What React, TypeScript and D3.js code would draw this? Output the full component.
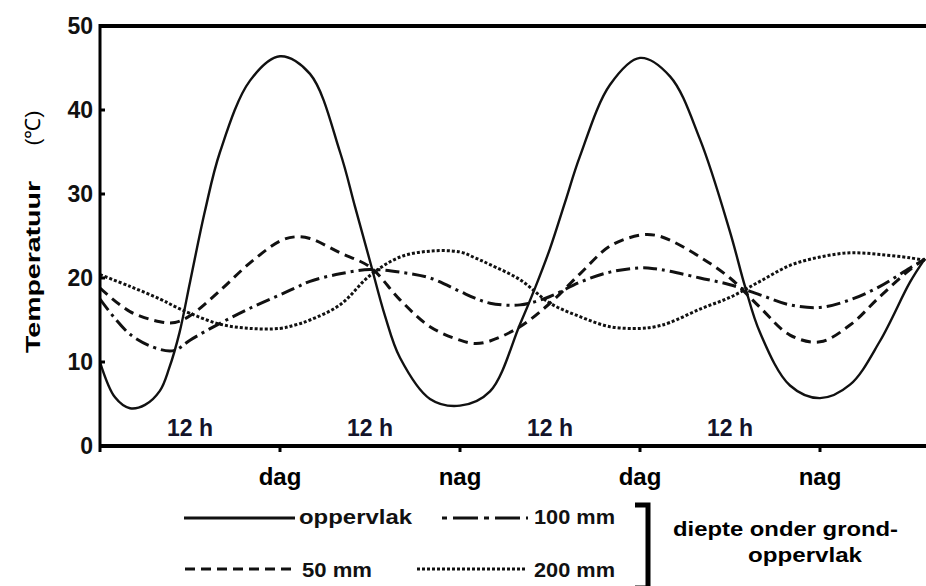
import React from "react";
import * as d3 from "d3";

const W = 926;
const H = 586;

// Y axis ticks (°C)
const yTicks = [0, 10, 20, 30, 40, 50];
// X axis: hours, ticks every 12 h
const xTickHours = [12, 24, 36, 48];
const xTickLabels = ["dag", "nag", "dag", "nag"];
const spanHours = [6, 18, 30, 42];
const spanLabels = ["12 h", "12 h", "12 h", "12 h"];

// surface (oppervlak)
const surfaceHours = [0, 1, 2, 3, 4, 4.6, 5.3, 6, 7, 8, 10, 12, 14, 16, 17, 18, 19, 20, 22, 24, 26, 28, 29, 30, 31, 32, 34, 36, 38, 40, 42, 43, 44, 46, 48, 50, 52, 54, 55];
const surfaceTemps = [10, 5.8, 4.5, 4.9, 6.6, 9.2, 13.5, 19.5, 28, 35, 43.5, 46.4, 44.3, 35, 28.5, 22, 15.5, 10.5, 5.6, 4.8, 6.5, 14.5, 18.8, 23.5, 29, 34.5, 43, 46.2, 44, 36.5, 25.5, 19, 13.5, 7.2, 5.7, 7.3, 12.5, 19.5, 22.3];

// depth series share one time grid
const depthHours = [0, 2, 4, 5, 6, 8, 10, 12, 13, 14, 16, 18, 20, 22, 24, 25, 26, 28, 30, 32, 34, 36, 37, 38, 40, 42, 44, 46, 48, 50, 52, 54, 55];
const temps50mm = [18.8, 16, 14.8, 14.7, 15.5, 18.5, 21.8, 24.4, 24.9, 24.7, 23, 21.3, 17.4, 14.2, 12.6, 12.2, 12.5, 14.2, 17, 20.5, 23.8, 25.1, 25.1, 24.5, 22.5, 20, 16.5, 13.2, 12.4, 14.4, 17.8, 21, 22.3];
const temps100mm = [17.5, 13.3, 11.5, 11.4, 12.6, 14.6, 16.4, 18, 18.8, 19.6, 20.5, 21, 20.7, 20, 18.4, 17.6, 17, 16.8, 17.8, 19.5, 20.7, 21.2, 21.1, 20.8, 20, 19.2, 18, 16.8, 16.5, 17.4, 19, 21.2, 22.2];
const temps200mm = [20.4, 19, 17.5, 16.6, 15.8, 14.5, 14, 14, 14.4, 15, 16.8, 20.3, 22.5, 23.2, 23.1, 22.4, 21.6, 19.8, 17, 15.4, 14.2, 14, 14.2, 14.7, 16.3, 17.7, 19.6, 21.5, 22.5, 23, 22.8, 22.4, 22.1];

const FONT = "'Liberation Sans', Arial, Helvetica, sans-serif";

export default function App() {
  const x = d3.scaleLinear().domain([0, 55]).range([100, 925]);
  const y = d3.scaleLinear().domain([0, 50]).range([446, 26]);

  const line = d3
    .line<[number, number]>()
    .x((d) => x(d[0]))
    .y((d) => y(d[1]))
    .curve(d3.curveCatmullRom.alpha(0.5));

  const zip = (hs: number[], vs: number[]) => hs.map((h, i) => [h, vs[i]] as [number, number]);

  const series = [
    { d: zip(surfaceHours, surfaceTemps), dash: "none", w: 2.4 },
    { d: zip(depthHours, temps50mm), dash: "10 6", w: 3 },
    { d: zip(depthHours, temps100mm), dash: "14 5 3 5", w: 3 },
    { d: zip(depthHours, temps200mm), dash: "3 2", w: 3 },
  ];

  const xMin = x(0);
  const xMax = W;

  return (
    <div style={{ position: "absolute", left: 0, top: 0 }}>
      <svg width={W} height={H} style={{ display: "block", background: "#fff" }} fontFamily={FONT}>
        <defs>
          <clipPath id="plot">
            <rect x={xMin} y={y(50)} width={xMax - xMin} height={y(0) - y(50)} />
          </clipPath>
        </defs>

        {/* curves */}
        <g clipPath="url(#plot)" fill="none" stroke="#111">
          {series.map((s, i) => (
            <path key={i} d={line(s.d) || ""} strokeWidth={s.w} strokeDasharray={s.dash} />
          ))}
        </g>

        {/* frame */}
        <line x1={xMin} x2={xMax} y1={y(50)} y2={y(50)} stroke="#000" strokeWidth={4} />
        <line x1={xMin} x2={xMax} y1={y(0)} y2={y(0)} stroke="#000" strokeWidth={4} />
        <line x1={xMin} x2={xMin} y1={y(50) - 2} y2={y(0) + 6} stroke="#000" strokeWidth={3} />

        {/* y ticks */}
        {yTicks.map((t) => (
          <g key={t}>
            {t > 0 && t < 50 && <line x1={xMin} x2={xMin + 5} y1={y(t)} y2={y(t)} stroke="#000" strokeWidth={3} />}
            <text x={xMin - 7} y={y(t)} dy="0.36em" textAnchor="end" fontSize={23} fontWeight="bold" fill="#111">
              {t}
            </text>
          </g>
        ))}

        {/* x ticks */}
        {xTickHours.map((h, i) => (
          <g key={h}>
            <line x1={x(h)} x2={x(h)} y1={y(0)} y2={y(0) + 6} stroke="#000" strokeWidth={3} />
            <text x={x(h)} y={485} textAnchor="middle" fontSize={24} fontWeight="bold" fill="#000">
              {xTickLabels[i]}
            </text>
          </g>
        ))}
        {spanHours.map((h, i) => (
          <text key={h} x={x(h)} y={436} textAnchor="middle" fontSize={23} fontWeight="bold" fill="#14142a">
            {spanLabels[i]}
          </text>
        ))}

        {/* y title */}
        <text transform="translate(40,267) rotate(-90)" textAnchor="middle" fontSize={21} fontWeight="bold" fill="#000"
          textLength={172} lengthAdjust="spacingAndGlyphs">
          Temperatuur
        </text>
        <text transform="translate(40,128) rotate(-90)" textAnchor="middle" fontSize={21} fill="#000">
          (℃)
        </text>

        {/* legend */}
        <g stroke="#111" fill="none">
          <line x1={184} x2={295} y1={518} y2={518} strokeWidth={3} />
          <line x1={442} x2={528} y1={518} y2={518} strokeWidth={3} strokeDasharray="5 6 25 6" />
          <line x1={185} x2={294} y1={569} y2={569} strokeWidth={3} strokeDasharray="10 6" />
          <line x1={417} x2={527} y1={569} y2={569} strokeWidth={3} strokeDasharray="3 2" />
        </g>
        <g fontSize={21} fontWeight="bold" fill="#111">
          <text x={299} y={524} textLength={113} lengthAdjust="spacingAndGlyphs">oppervlak</text>
          <text x={534} y={524} textLength={81} lengthAdjust="spacingAndGlyphs">100 mm</text>
          <text x={302} y={577} textLength={70} lengthAdjust="spacingAndGlyphs">50 mm</text>
          <text x={534} y={577} textLength={81} lengthAdjust="spacingAndGlyphs">200 mm</text>
        </g>

        {/* bracket */}
        <path d="M635,505 H648 V588 H635" fill="none" stroke="#000" strokeWidth={5} />
        <g fontSize={21} fontWeight="bold" fill="#000">
          <text x={673} y={536} textLength={225} lengthAdjust="spacingAndGlyphs">diepte onder grond-</text>
          <text x={748} y={562} textLength={114} lengthAdjust="spacingAndGlyphs">oppervlak</text>
        </g>
      </svg>
    </div>
  );
}
